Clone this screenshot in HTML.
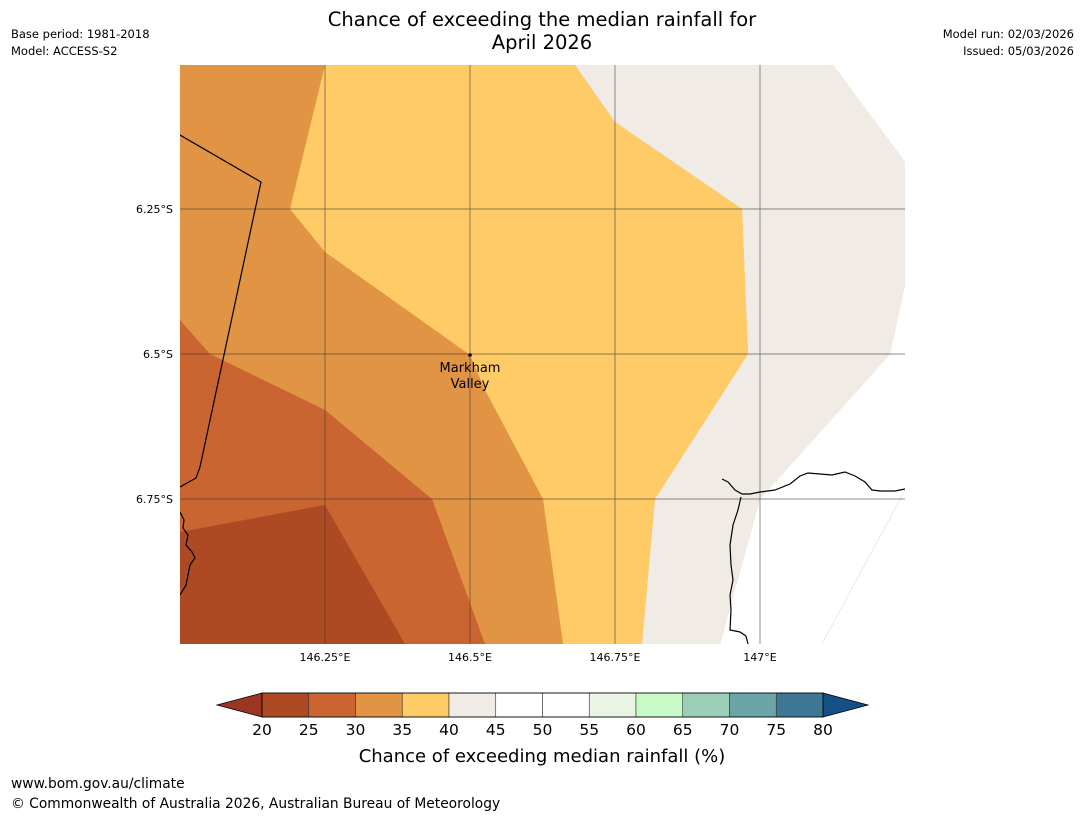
<!DOCTYPE html>
<html><head><meta charset="utf-8"><style>
body{margin:0;background:#fff;width:1085px;height:816px;overflow:hidden;font-family:"DejaVu Sans","Liberation Sans",sans-serif;}
svg{position:absolute;left:0;top:0}
</style></head><body>
<svg width="1085" height="816" viewBox="0 0 1085 816" id="chart">
<text x="542" y="26" text-anchor="middle" font-size="19.5">Chance of exceeding the median rainfall for</text>
<text x="542" y="49" text-anchor="middle" font-size="19.5">April 2026</text>
<text x="11" y="38" font-size="11.5">Base period: 1981-2018</text>
<text x="11" y="55" font-size="11.5">Model: ACCESS-S2</text>
<text x="1074" y="38" font-size="11.5" text-anchor="end">Model run: 02/03/2026</text>
<text x="1074" y="55" font-size="11.5" text-anchor="end">Issued: 05/03/2026</text>
<defs><clipPath id="mc"><rect x="180" y="65" width="725" height="579"/></clipPath></defs>
<g clip-path="url(#mc)">
<rect x="180" y="65" width="725" height="579" fill="#e09444"/>
<polygon points="180,320 210,354 325,410 432,499 485,644 180,644" fill="#ca6431"/>
<polygon points="180,532 325,505 405,644 180,644" fill="#ae4a23"/>
<polygon points="325,65 575,65 615,122 742,209 748,354 655,499 642,644 563,644 543,499 485,390 470,355 325,252 290,209" fill="#fecb66"/>
<polygon points="575,65 833,65 905,162 905,285 890,354 760,499 720,644 642,644 655,499 748,354 742,209 615,122" fill="#f0ebe5"/>
<polygon points="833,65 910,65 910,162 905,162" fill="#ffffff"/>
<polygon points="905,285 890,354 760,499 720,644 910,644 910,285" fill="#ffffff"/>
<line x1="905" y1="490" x2="822" y2="644" stroke="#ddd" stroke-width="0.6"/>
<g id="grid" stroke="#333" stroke-width="0.7" opacity="0.75"></g>
<polyline points="180,135 261,182 200,467 196,478 180,487" fill="none" stroke="#000" stroke-width="1.2"/>
<polyline points="180,512 184,520 183,528 188,535 186,545 192,552 195,558 190,565 188,575 186,585 180,595" fill="none" stroke="#000" stroke-width="1.2"/>
<polyline points="722,479 728,482 735,490 742,494 750,494 760,492 775,490 790,484 800,476 808,473 820,474 832,475 845,472 855,476 865,482 872,490 880,491 895,491 905,489" fill="none" stroke="#000" stroke-width="1.2"/>
<polyline points="741,497 738,510 733,525 730,545 731,565 733,580 730,595 731,610 730,630 740,632 746,636 748,644" fill="none" stroke="#000" stroke-width="1.2"/>
<circle cx="470" cy="355" r="1.8" fill="#000"/>
<text x="470" y="372" text-anchor="middle" font-size="13">Markham</text>
<text x="470" y="388" text-anchor="middle" font-size="13">Valley</text>
</g>
<g id="axlabels" font-size="11"></g>
<g id="cbar"></g>
<text x="542" y="762" text-anchor="middle" font-size="18">Chance of exceeding median rainfall (%)</text>
<text x="11" y="788" font-size="13.8">www.bom.gov.au/climate</text>
<text x="11" y="808" font-size="13.8">© Commonwealth of Australia 2026, Australian Bureau of Meteorology</text>
</svg>
<script>
const lonTicks=[146.25,146.5,146.75,147];
const lonLabels=["146.25°E","146.5°E","146.75°E","147°E"];
const latTicks=[-6.25,-6.5,-6.75];
const latLabels=["6.25°S","6.5°S","6.75°S"];
const cbTicks=[20,25,30,35,40,45,50,55,60,65,70,75,80];
const cbColors=["#ae4a23","#ca6431","#e09444","#fecb66","#f0ebe5","#ffffff","#ffffff","#eaf5e6","#c8fac8","#9ccfb8","#6ba5a7","#3e7896"];
const NS="http://www.w3.org/2000/svg";
const xLon=v=>325+(v-146.25)/0.25*145;
const yLat=v=>209+(-6.25-v)/0.25*145;
const grid=document.getElementById('grid'),axl=document.getElementById('axlabels');
function mk(t,a,p){const e=document.createElementNS(NS,t);for(const k in a)e.setAttribute(k,a[k]);p.appendChild(e);return e;}
lonTicks.forEach((v,i)=>{const x=xLon(v);
const l=mk('line',{x1:x,y1:65,x2:x,y2:644},grid);


const t=mk('text',{x:x,y:661,'text-anchor':'middle'},axl);t.textContent=lonLabels[i];

});
latTicks.forEach((v,i)=>{const y=yLat(v);
const l=mk('line',{x1:180,y1:y,x2:905,y2:y},grid);


const t=mk('text',{x:173,y:y+4,'text-anchor':'end'},axl);t.textContent=latLabels[i];

});
const cb=document.getElementById('cbar');
const cx0=262,cx1=823,cy=693,ch=24;
const xc=v=>cx0+(v-cbTicks[0])/(cbTicks[cbTicks.length-1]-cbTicks[0])*(cx1-cx0);
const lt=mk('polygon',{points:`${cx0},${cy} ${cx0},${cy+ch} 217,${cy+ch/2}`,fill:'#9a3622',stroke:'#000','stroke-width':0.8},cb);


const rt=mk('polygon',{points:`${cx1},${cy} ${cx1},${cy+ch} 868,${cy+ch/2}`,fill:'#154f88',stroke:'#000','stroke-width':0.8},cb);


cbColors.forEach((c,i)=>{const x=xc(cbTicks[i]),w=xc(cbTicks[i+1])-x;
const r=mk('rect',{x:x,y:cy,width:w,height:ch,fill:c,stroke:'#333','stroke-width':0.6},cb);

});
mk('rect',{x:cx0,y:cy,width:cx1-cx0,height:ch,fill:'none',stroke:'#000','stroke-width':0.8},cb);
cbTicks.forEach(v=>{const t=mk('text',{x:xc(v),y:735,'text-anchor':'middle','font-size':15.5},cb);t.textContent=v;

});
</script>
</body></html>
